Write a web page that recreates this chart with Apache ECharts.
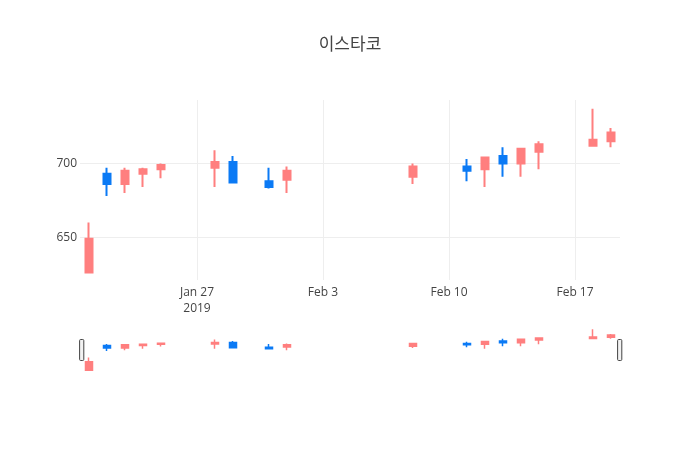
<!DOCTYPE html>
<html>
<head>
<meta charset="utf-8">
<script src="https://cdn.jsdelivr.net/npm/echarts@6/dist/echarts.min.js"></script>
<style>
  html, body { margin: 0; padding: 0; background: #fff; }
  #chart { width: 700px; height: 450px; }
</style>
</head>
<body>
<div id="chart"></div>
<script>
// 일별 시세 (이스타코)
const dates  = ['2019-01-21', '2019-01-22', '2019-01-23', '2019-01-24', '2019-01-25',
                '2019-01-28', '2019-01-29', '2019-01-31', '2019-02-01', '2019-02-08',
                '2019-02-11', '2019-02-12', '2019-02-13', '2019-02-14', '2019-02-15',
                '2019-02-18', '2019-02-19'];
const opens  = [626, 693, 686, 693, 696, 697, 701, 688, 689, 691, 698, 696, 705, 700, 708, 712, 715];
const closes = [649, 686, 695, 696, 699, 701, 687, 684, 695, 698, 695, 704, 700, 710, 713, 716, 721];
const lows   = [626, 678, 680, 684, 690, 684, 687, 683, 680, 686, 688, 684, 691, 691, 696, 712, 711];
const highs  = [660, 697, 697, 697, 700, 709, 705, 697, 698, 700, 703, 704, 711, 710, 715, 737, 724];

const tickDates  = ['2019-01-27', '2019-02-03', '2019-02-10', '2019-02-17'];
const tickLabels = ['Jan 27\n2019', 'Feb 3', 'Feb 10', 'Feb 17'];
const yTicks = [650, 700];

const upColor = '#FF7F7F';
const downColor = '#0B7AF5';
const HALF_DAY = 12 * 3600 * 1000;

function toTime(s) {
  const p = s.split('-').map(Number);
  return Date.UTC(p[0], p[1] - 1, p[2]);
}

const rows = dates.map((d, i) => [toTime(d), opens[i], closes[i], lows[i], highs[i]]);
const tickTimes = tickDates.map(toTime);
const xMin = toTime('2019-01-20') + HALF_DAY;
const xMax = toTime('2019-02-19') + HALF_DAY;

const chart = echarts.init(document.getElementById('chart'));

const option = {
  animation: false,
  title: {
    text: '이스타코',
    left: 'center',
    top: 32,
    textStyle: {
      fontFamily: "'Open Sans', 'Noto Sans CJK KR', sans-serif",
      fontSize: 17,
      fontWeight: 'normal',
      color: '#444'
    }
  },
  grid: [
    { left: 80, right: 80, top: 100, height: 180 },
    { left: 80, right: 80, top: 327, height: 45 }
  ],
  xAxis: [
    {
      type: 'value',
      gridIndex: 0,
      min: xMin,
      max: xMax,
      axisLine: { show: false },
      axisTick: { show: false, customValues: tickTimes },
      splitLine: { show: true, lineStyle: { color: '#eee', width: 1 } },
      axisLabel: {
        customValues: tickTimes,
        margin: 5,
        color: '#444',
        fontSize: 12,
        lineHeight: 16,
        fontFamily: "'Open Sans', sans-serif",
        formatter: function (v) {
          const i = tickTimes.indexOf(v);
          return i >= 0 ? tickLabels[i] : '';
        }
      }
    },
    {
      type: 'value',
      gridIndex: 1,
      min: xMin,
      max: xMax,
      show: false
    }
  ],
  yAxis: [
    {
      type: 'value',
      gridIndex: 0,
      min: 621,
      max: 743,
      axisLine: { show: false },
      axisTick: { show: false, customValues: yTicks },
      splitLine: { show: true, lineStyle: { color: '#eee', width: 1 } },
      axisLabel: {
        customValues: yTicks,
        margin: 3,
        color: '#444',
        fontSize: 12,
        fontFamily: "'Open Sans', sans-serif"
      }
    },
    {
      type: 'value',
      gridIndex: 1,
      min: 621,
      max: 743,
      show: false
    }
  ],
  dataZoom: [
    {
      type: 'slider',
      xAxisIndex: [0],
      filterMode: 'none',
      start: 0,
      end: 100,
      left: 80,
      right: 80,
      top: 329,
      height: 42,
      backgroundColor: 'rgba(0,0,0,0)',
      borderColor: 'rgba(0,0,0,0)',
      fillerColor: 'rgba(0,0,0,0)',
      showDataShadow: false,
      showDetail: false,
      brushSelect: false,
      moveHandleSize: 0,
      moveHandleStyle: { opacity: 0 },
      handleIcon: 'path://M1,0 H3 A1,1 0 0 1 4,1 V19 A1,1 0 0 1 3,20 H1 A1,1 0 0 1 0,19 V1 A1,1 0 0 1 1,0 Z',
      handleSize: 21,
      handleStyle: { color: '#f2f2f2', borderColor: '#444', borderWidth: 1 },
      emphasis: { handleStyle: { color: '#f2f2f2', borderColor: '#444', borderWidth: 1 } }
    }
  ],
  series: [
    {
      name: '이스타코',
      type: 'candlestick',
      xAxisIndex: 0,
      yAxisIndex: 0,
      data: rows,
      encode: { x: 0, y: [1, 2, 3, 4] },
      barWidth: 8,
      itemStyle: {
        color: upColor,
        color0: downColor,
        borderColor: upColor,
        borderColor0: downColor,
        borderWidth: 2
      }
    },
    {
      name: 'slider',
      type: 'candlestick',
      xAxisIndex: 1,
      yAxisIndex: 1,
      data: rows,
      encode: { x: 0, y: [1, 2, 3, 4] },
      barWidth: 8,
      silent: true,
      itemStyle: {
        color: upColor,
        color0: downColor,
        borderColor: upColor,
        borderColor0: downColor,
        borderWidth: 1.5
      }
    }
  ]
};

option && chart.setOption(option);

window.addEventListener('resize', () => {
  chart.resize();
});
</script>
</body>
</html>
